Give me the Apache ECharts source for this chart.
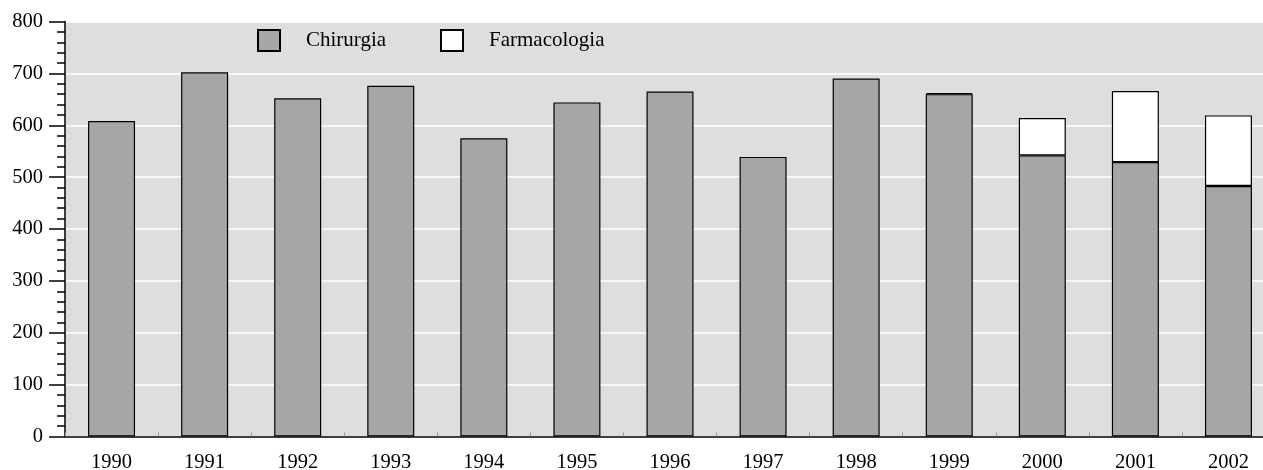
<!DOCTYPE html>
<html>
<head>
<meta charset="utf-8">
<script src="https://cdn.jsdelivr.net/npm/echarts@6/dist/echarts.min.js"></script>
<style>
html,body{margin:0;padding:0;background:#fff;}
#c{width:1263px;height:470px;}
</style>
</head>
<body>
<div id="c"></div>
<script>
const years = ['1990','1991','1992','1993','1994','1995','1996','1997','1998','1999','2000','2001','2002'];
const chirurgia = [608, 702, 652, 676, 575, 644, 665, 539, 690, 660, 542, 529, 483];
const farmacologia = [null, null, null, null, null, null, null, null, null, 2, 72, 137, 136];
const yTicks = [0, 100, 200, 300, 400, 500, 600, 700, 800];

const font = 'Liberation Serif';
const chart = echarts.init(document.getElementById('c'), null, {renderer: 'canvas'});
chart.setOption({
  animation: false,
  backgroundColor: '#ffffff',
  textStyle: {fontFamily: font},
  legend: [
    {
      left: 257, top: 29, padding: 0, itemWidth: 22, itemHeight: 21, icon: 'rect',
      data: ['Chirurgia'],
      textStyle: {fontFamily: font, fontSize: 21, color: '#000', padding: [0, 0, 0, 21]}
    },
    {
      left: 440, top: 29, padding: 0, itemWidth: 22, itemHeight: 21, icon: 'rect',
      data: ['Farmacologia'],
      textStyle: {fontFamily: font, fontSize: 21, color: '#000', padding: [0, 0, 0, 21]}
    }
  ],
  grid: {
    left: 65, top: 21.5, width: 1210, height: 415,
    outerBoundsMode: 'none', containLabel: false,
    show: true, backgroundColor: '#dedede', borderWidth: 0
  },
  xAxis: {
    type: 'category',
    data: years,
    axisLine: {show: true, lineStyle: {color: '#000', width: 1.5}},
    axisTick: {show: true, inside: true, length: 4, lineStyle: {color: '#999'}},
    axisLabel: {fontFamily: font, fontSize: 20.5, color: '#000', margin: 16},
    splitLine: {show: false}
  },
  yAxis: {
    type: 'value',
    min: yTicks[0], max: yTicks[yTicks.length - 1], interval: 100,
    axisLine: {show: true, lineStyle: {color: '#000', width: 1.5}},
    axisTick: {show: true, inside: false, length: 16, lineStyle: {color: '#000', width: 1.5}},
    minorTick: {show: true, splitNumber: 5, length: 8, lineStyle: {color: '#000', width: 1.5}},
    axisLabel: {fontFamily: font, fontSize: 20.5, color: '#000', margin: 22},
    splitLine: {show: true, lineStyle: {color: '#ffffff', width: 1.5}}
  },
  series: [
    {
      name: 'Chirurgia', type: 'bar', stack: 's', barWidth: 47,
      data: chirurgia,
      itemStyle: {color: '#a6a6a6', borderColor: '#000', borderWidth: 1.2}
    },
    {
      name: 'Farmacologia', type: 'bar', stack: 's', barWidth: 47,
      data: farmacologia,
      itemStyle: {color: '#ffffff', borderColor: '#000', borderWidth: 1.2}
    }
  ]
});
</script>
</body>
</html>
